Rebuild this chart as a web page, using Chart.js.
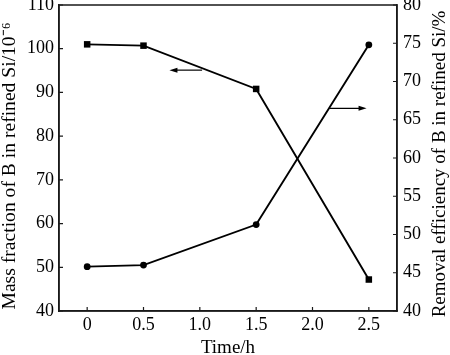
<!DOCTYPE html>
<html>
<head>
<meta charset="utf-8">
<script src="https://cdn.jsdelivr.net/npm/chart.js@4/dist/chart.umd.min.js"></script>
<style>
  html, body { margin: 0; padding: 0; background: #fff; }
  canvas { display: block; }
</style>
</head>
<body>
<canvas id="c" width="450" height="355"></canvas>
<script>
// ---- data ----
const timeHours = [0, 0.5, 1.5, 2.5];
const massFraction = [101.0, 100.7, 90.8, 47.2];      // left axis, 10^-6
const removalEfficiency = [45.8, 46.0, 51.3, 74.8];   // right axis, %
const xTickValues = [0, 0.5, 1.0, 1.5, 2.0, 2.5];
const xTickLabels = ['0', '0.5', '1.0', '1.5', '2.0', '2.5'];
const leftTickValues = [40, 50, 60, 70, 80, 90, 100, 110];
const rightTickValues = [40, 45, 50, 55, 60, 65, 70, 75, 80];
const xAxisTitle = 'Time/h';
const leftAxisTitle = 'Mass fraction of B in refined Si/10\u207B\u2076';
const rightAxisTitle = 'Removal efficiency of B in refined Si/%';
// arrows (in data units): [xFrom, xTo, y, axis]
const arrowLeft = [1.02, 0.73, 95.1, 'y'];
const arrowRight = [2.15, 2.48, 66.5, 'y1'];

const FONT = '"Liberation Serif", "Times New Roman", serif';
const INK = '#000';
const AXIS = '#1a1a1a';

function toTicks(vals) { return vals.map(v => ({ value: v })); }
function fixScale(w, h) {
  return function (s) {
    if (w !== null) s.width = w;
    if (h !== null) s.height = h;
    s.paddingTop = 0; s.paddingBottom = 0; s.paddingLeft = 0; s.paddingRight = 0;
  };
}

const decor = {
  id: 'decor',
  afterDraw(chart) {
    const ctx = chart.ctx;
    const a = chart.chartArea;
    const xs = chart.scales.x, yl = chart.scales.y, yr = chart.scales.y1;
    ctx.save();
    // frame
    ctx.strokeStyle = AXIS;
    ctx.lineWidth = 1.5;
    ctx.strokeRect(a.left, a.top, a.right - a.left, a.bottom - a.top);
    // inward tick marks
    ctx.lineWidth = 1.2;
    ctx.beginPath();
    xTickValues.forEach(v => {
      const px = xs.getPixelForValue(v);
      ctx.moveTo(px, a.bottom); ctx.lineTo(px, a.bottom - 4);
    });
    leftTickValues.forEach(v => {
      const py = yl.getPixelForValue(v);
      ctx.moveTo(a.left, py); ctx.lineTo(a.left + 4, py);
    });
    rightTickValues.forEach(v => {
      const py = yr.getPixelForValue(v);
      ctx.moveTo(a.right, py); ctx.lineTo(a.right - 4, py);
    });
    ctx.stroke();
    // arrows
    [arrowLeft, arrowRight].forEach(ar => {
      const x0 = xs.getPixelForValue(ar[0]);
      const x1 = xs.getPixelForValue(ar[1]);
      const y = chart.scales[ar[3]].getPixelForValue(ar[2]);
      const dir = Math.sign(x1 - x0);
      ctx.strokeStyle = INK; ctx.fillStyle = INK; ctx.lineWidth = 1.2;
      ctx.beginPath(); ctx.moveTo(x0, y); ctx.lineTo(x1 - dir * 5, y); ctx.stroke();
      ctx.beginPath();
      ctx.moveTo(x1, y);
      ctx.lineTo(x1 - dir * 8, y - 2.5);
      ctx.lineTo(x1 - dir * 8, y + 2.5);
      ctx.closePath(); ctx.fill();
    });
    // y axis titles (both read bottom-to-top)
    ctx.fillStyle = INK;
    ctx.textAlign = 'center';
    ctx.textBaseline = 'middle';
    ctx.save();
    ctx.font = '19.6px ' + FONT;
    ctx.translate(10, 166); ctx.rotate(-Math.PI / 2);
    ctx.fillText(leftAxisTitle, 0, 0);
    ctx.restore();
    ctx.save();
    ctx.font = '19px ' + FONT;
    ctx.translate(440, 164); ctx.rotate(-Math.PI / 2);
    ctx.fillText(rightAxisTitle, 0, 0);
    ctx.restore();
    ctx.restore();
  }
};

new Chart(document.getElementById('c'), {
  type: 'line',
  data: {
    datasets: [
      {
        label: 'Mass fraction',
        data: timeHours.map((t, i) => ({ x: t, y: massFraction[i] })),
        yAxisID: 'y',
        borderColor: INK, backgroundColor: INK,
        borderWidth: 1.9,
        pointStyle: 'rect', pointRadius: 4.6, pointBorderWidth: 0,
        tension: 0
      },
      {
        label: 'Removal efficiency',
        data: timeHours.map((t, i) => ({ x: t, y: removalEfficiency[i] })),
        yAxisID: 'y1',
        borderColor: INK, backgroundColor: INK,
        borderWidth: 1.9,
        pointStyle: 'circle', pointRadius: 3.4, pointBorderWidth: 0,
        tension: 0
      }
    ]
  },
  options: {
    responsive: false,
    animation: false,
    devicePixelRatio: 1,
    layout: { padding: { top: 5, left: 0, right: 0, bottom: 0 } },
    plugins: { legend: { display: false }, tooltip: { enabled: false } },
    scales: {
      x: {
        type: 'linear', min: -0.25, max: 2.75,
        afterBuildTicks: s => { s.ticks = toTicks(xTickValues); },
        afterFit: fixScale(null, 44),
        grid: { drawOnChartArea: false, drawTicks: false },
        border: { display: true, color: AXIS, width: 1.5 },
        ticks: {
          color: INK, font: { family: FONT, size: 18 }, padding: 3,
          maxRotation: 0, autoSkip: false,
          callback: (v, i) => xTickLabels[i]
        },
        title: {
          display: true, text: xAxisTitle, color: INK,
          font: { family: FONT, size: 19, lineHeight: 0.7 },
          padding: { top: 0, bottom: 0 }
        }
      },
      y: {
        position: 'left', min: 40, max: 110,
        afterBuildTicks: s => { s.ticks = toTicks(leftTickValues); },
        afterFit: fixScale(59, null),
        grid: { drawOnChartArea: false, drawTicks: false },
        border: { display: true, color: AXIS, width: 1.5 },
        ticks: { color: INK, font: { family: FONT, size: 18 }, padding: 5, autoSkip: false }
      },
      y1: {
        position: 'right', min: 40, max: 80,
        afterBuildTicks: s => { s.ticks = toTicks(rightTickValues); },
        afterFit: fixScale(53, null),
        grid: { drawOnChartArea: false, drawTicks: false },
        border: { display: true, color: AXIS, width: 1.5 },
        ticks: { color: INK, font: { family: FONT, size: 18 }, padding: 6, autoSkip: false }
      }
    }
  },
  plugins: [decor]
});
</script>
</body>
</html>
